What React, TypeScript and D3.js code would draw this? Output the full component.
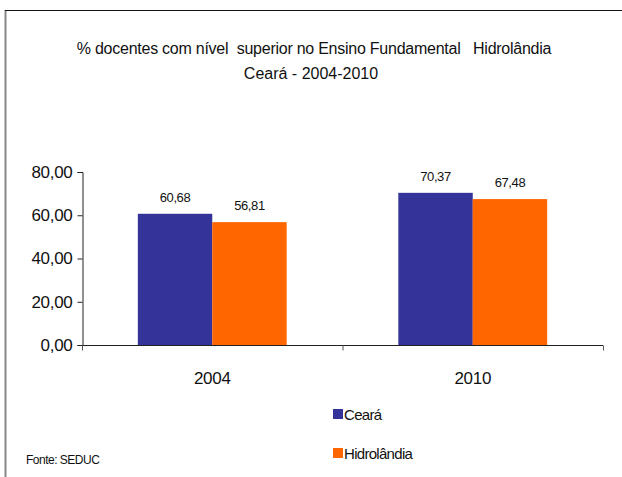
import { useEffect, useRef } from 'react';
import * as d3 from 'd3';

const years = ['2004', '2010'];
const series = ['Ceará', 'Hidrolândia'];
const ceara = [60.68, 70.37];
const hidrolandia = [56.81, 67.48];
const yTicks = [0, 20, 40, 60, 80];
const colors = ['#333399', '#FF6600'];

const FONT = "'Liberation Sans', Arial, sans-serif";

export default function App() {
  const svgRef = useRef<SVGSVGElement>(null);

  useEffect(() => {
    if (!svgRef.current) return;
    const svg = d3.select(svgRef.current);
    svg.selectAll('*').remove();

    const fmt = (v: number) => v.toFixed(2).replace('.', ',');

    // frame
    svg.append('line').attr('x1', 5.5).attr('x2', 5.5).attr('y1', 10).attr('y2', 477)
      .attr('stroke', '#888').attr('stroke-width', 2);
    svg.append('line').attr('x1', 5).attr('x2', 622).attr('y1', 10.5).attr('y2', 10.5)
      .attr('stroke', '#111').attr('stroke-width', 1);

    // title
    const title = svg.append('text').attr('text-anchor', 'middle')
      .attr('font-family', FONT).attr('font-size', 16).attr('fill', '#111')
      .style('white-space', 'pre');
    title.append('tspan').attr('x', 314).attr('y', 54).attr('letter-spacing', -0.25)
      .text('% docentes com nível  superior no Ensino Fundamental   Hidrolândia');
    title.append('tspan').attr('x', 311).attr('y', 79).text('Ceará - 2004-2010');

    const x0 = d3.scaleBand().domain(years).range([82, 603]).paddingInner(0).paddingOuter(0);
    const x1 = d3.scaleBand().domain(series).range([0, x0.bandwidth()]).paddingOuter(0.75);
    const y = d3.scaleLinear().domain([0, 80]).range([345, 172]);

    const data = years.map((yr, i) => ({ yr, vals: [ceara[i], hidrolandia[i]] }));

    const g = svg.append('g');
    data.forEach(d => {
      d.vals.forEach((v, j) => {
        const bx = (x0(d.yr) ?? 0) + (x1(series[j]) ?? 0);
        g.append('rect')
          .attr('x', bx).attr('y', y(v))
          .attr('width', x1.bandwidth()).attr('height', y(0) - y(v))
          .attr('fill', colors[j]);
        g.append('text')
          .attr('x', bx + x1.bandwidth() / 2).attr('y', y(v) - 12)
          .attr('text-anchor', 'middle').attr('font-family', FONT).attr('font-size', 13)
          .attr('letter-spacing', -0.4).attr('fill', '#111').text(fmt(v));
      });
    });

    // y axis
    const yAxis = svg.append('g').attr('transform', 'translate(82.5,0)')
      .call(d3.axisLeft(y).tickValues(yTicks).tickSize(5).tickPadding(5).tickFormat(d => fmt(+d)));
    yAxis.select('.domain').attr('stroke', '#222');
    yAxis.selectAll('.tick line').attr('stroke', '#222');
    yAxis.selectAll('text').attr('font-family', FONT).attr('font-size', 17)
      .attr('letter-spacing', -0.3).attr('fill', '#111');

    // x axis
    const xAxis = svg.append('g').attr('transform', 'translate(0,345.5)');
    xAxis.append('line').attr('x1', 82).attr('x2', 603).attr('y1', 0).attr('y2', 0).attr('stroke', '#222');
    const edges = [82, ...years.map(yr => (x0(yr) ?? 0) + x0.bandwidth())];
    edges.forEach(ex => {
      xAxis.append('line').attr('x1', ex + 0.5).attr('x2', ex + 0.5).attr('y1', 0).attr('y2', 5).attr('stroke', '#555');
    });
    years.forEach(yr => {
      xAxis.append('text').attr('x', (x0(yr) ?? 0) + x0.bandwidth() / 2).attr('y', 38)
        .attr('text-anchor', 'middle').attr('font-family', FONT).attr('font-size', 17)
        .attr('letter-spacing', -0.3).attr('fill', '#111').text(yr);
    });

    // legend
    series.forEach((s, j) => {
      const ly = 409 + j * 39;
      svg.append('rect').attr('x', 333).attr('y', ly).attr('width', 10).attr('height', 10).attr('fill', colors[j]);
      svg.append('text').attr('x', 344).attr('y', ly + 11).attr('font-family', FONT)
        .attr('font-size', 15).attr('letter-spacing', -0.7).attr('fill', '#111').text(s);
    });

    svg.append('text').attr('x', 26).attr('y', 464).attr('font-family', FONT)
      .attr('font-size', 12).attr('letter-spacing', -0.5).attr('fill', '#111').text('Fonte: SEDUC');
  }, []);

  return (
    <svg ref={svgRef} width={622} height={477}
      style={{ position: 'absolute', left: 0, top: 0, background: '#fff' }} />
  );
}
